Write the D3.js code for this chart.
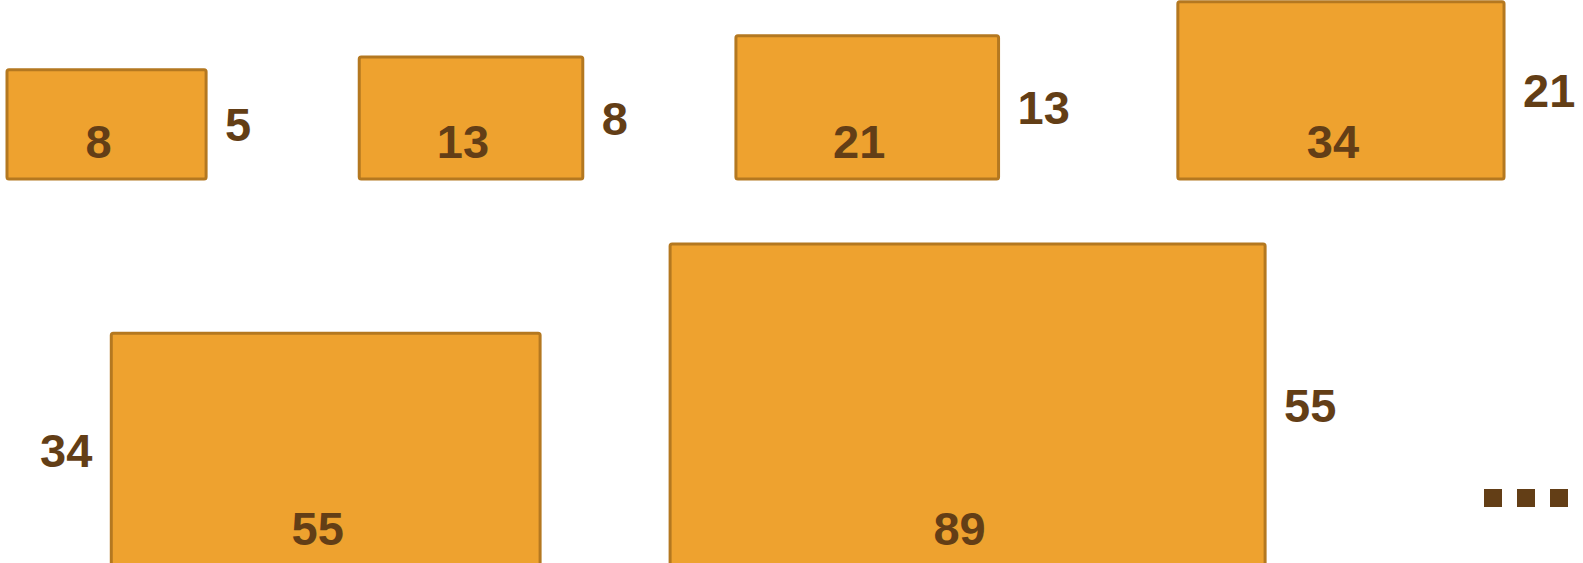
<!DOCTYPE html>
<html lang="en">
<head>
    <meta charset="UTF-8">
    <title>Fibonacci Rectangles</title>
    <script src="https://d3js.org/d3.v7.min.js"></script>
    <style>
        body {
            margin: 0;
            background: #ffffff;
        }

        .box {
            fill: #eea22f;
            stroke: #b47820;
            stroke-width: 3px;
        }

        .num {
            font-family: "Liberation Sans", Arial, sans-serif;
            font-weight: bold;
            font-size: 47px;
            fill: #633e16;
        }

        .dot {
            fill: #633e16;
        }
    </style>
</head>
<body>
    <script>
        // widths and heights of each rectangle (consecutive Fibonacci numbers)
        const widthValues = [8, 13, 21, 34, 55, 89];
        const heightValues = [5, 8, 13, 21, 34, 55];
        const rowIndex = [0, 0, 0, 0, 1, 1];
        const heightLabelSide = ["right", "right", "right", "right", "left", "right"];
        const moreDots = 3;

        const svgWidth = 1583;
        const svgHeight = 563;

        const svg = d3.select("body").append("svg")
            .attr("width", svgWidth)
            .attr("height", svgHeight);

        // sizes are not drawn to true proportion in the original, so fit a linear scale
        const wScale = d3.scaleLinear().domain([0, 89]).range([160, 595]);
        const hScale = d3.scaleLinear().domain([0, 55]).range([88, 322]);

        const rowBottom = [179, 566];
        const rowStart = [7, 40];
        const rowSpacer = [108, 130];
        const labelGap = 19;

        const boxes = widthValues.map((w, i) => ({
            w: w,
            h: heightValues[i],
            row: rowIndex[i],
            side: heightLabelSide[i]
        }));

        // measure label widths so the layout can flow left to right
        const probe = svg.append("text").attr("class", "num");
        function textWidth(s) {
            probe.text(s);
            return probe.node().getComputedTextLength();
        }

        const cursor = rowStart.slice();
        boxes.forEach(b => {
            const tw = textWidth(String(b.h));
            if (b.side === "left") {
                b.sideX = cursor[b.row];
                cursor[b.row] += tw + labelGap;
            }
            b.x = cursor[b.row];
            b.pw = wScale(b.w);
            b.ph = hScale(b.h);
            b.y = rowBottom[b.row] - b.ph;
            cursor[b.row] += b.pw;
            if (b.side === "right") {
                b.sideX = cursor[b.row] + labelGap;
                cursor[b.row] += labelGap + tw;
            }
            cursor[b.row] += rowSpacer[b.row];
        });
        probe.remove();

        const groups = svg.selectAll("g.rect")
            .data(boxes)
            .enter().append("g")
            .attr("class", "rect");

        groups.append("rect")
            .attr("class", "box")
            .attr("x", d => d.x)
            .attr("y", d => d.y)
            .attr("width", d => d.pw)
            .attr("height", d => d.ph)
            .attr("rx", 2);

        // width label near the bottom of each box
        groups.append("text")
            .attr("class", "num")
            .attr("text-anchor", "middle")
            .attr("x", d => d.x + d.pw / 2 - 8)
            .attr("y", d => d.y + d.ph - 21)
            .text(d => d.w);

        // height label beside each box
        groups.append("text")
            .attr("class", "num")
            .attr("text-anchor", "start")
            .attr("x", d => d.sideX)
            .attr("y", d => d.y + d.ph / 2)
            .attr("dy", "0.36em")
            .text(d => d.h);

        // trailing "..." squares
        const dotX = d3.scalePoint().domain(d3.range(moreDots)).range([1484, 1550]);
        svg.selectAll("rect.dot")
            .data(d3.range(moreDots))
            .enter().append("rect")
            .attr("class", "dot")
            .attr("x", d => dotX(d))
            .attr("y", 489)
            .attr("width", 18)
            .attr("height", 18);
    </script>
</body>
</html>
